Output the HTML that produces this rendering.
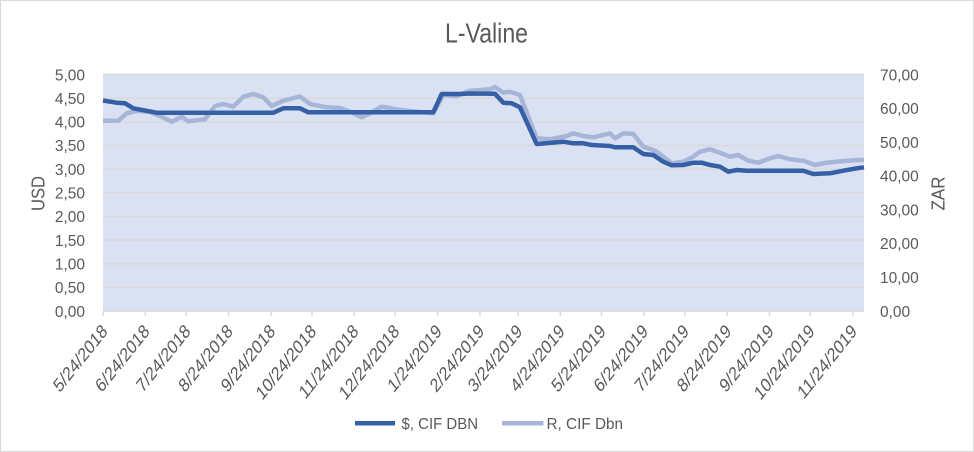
<!DOCTYPE html>
<html>
<head>
<meta charset="utf-8">
<style>
html,body{margin:0;padding:0;background:#fff;}
svg{display:block;}
text{font-family:"Liberation Sans","DejaVu Sans",sans-serif;fill:#595959;}
</style>
</head>
<body>
<svg width="974" height="452" viewBox="0 0 974 452" xmlns="http://www.w3.org/2000/svg">
<rect x="0.5" y="0.5" width="973" height="451" fill="#fff" stroke="#D9D9D9" stroke-width="1"/>
<text x="486.5" y="42.3" font-size="28" text-anchor="middle" textLength="83" lengthAdjust="spacingAndGlyphs">L-Valine</text>

<!-- plot area -->
<rect x="103" y="74.5" width="761" height="236.5" fill="#D9E1F2"/>
<g stroke="#D9D9D9" stroke-width="1.5">
<line x1="103" y1="74.5" x2="864" y2="74.5"/>
<line x1="103" y1="98.15" x2="864" y2="98.15"/>
<line x1="103" y1="121.8" x2="864" y2="121.8"/>
<line x1="103" y1="145.45" x2="864" y2="145.45"/>
<line x1="103" y1="169.1" x2="864" y2="169.1"/>
<line x1="103" y1="192.75" x2="864" y2="192.75"/>
<line x1="103" y1="216.4" x2="864" y2="216.4"/>
<line x1="103" y1="240.05" x2="864" y2="240.05"/>
<line x1="103" y1="263.7" x2="864" y2="263.7"/>
<line x1="103" y1="287.35" x2="864" y2="287.35"/>
<line x1="103" y1="311" x2="864" y2="311"/>
</g>
<!-- x ticks -->
<g stroke="#D9D9D9" stroke-width="1.5">
<line x1="103.3" y1="311" x2="103.3" y2="316"/>
<line x1="145.3" y1="311" x2="145.3" y2="316"/>
<line x1="186.3" y1="311" x2="186.3" y2="316"/>
<line x1="228.6" y1="311" x2="228.6" y2="316"/>
<line x1="271" y1="311" x2="271" y2="316"/>
<line x1="312" y1="311" x2="312" y2="316"/>
<line x1="354.3" y1="311" x2="354.3" y2="316"/>
<line x1="395.2" y1="311" x2="395.2" y2="316"/>
<line x1="437.6" y1="311" x2="437.6" y2="316"/>
<line x1="479.9" y1="311" x2="479.9" y2="316"/>
<line x1="518.1" y1="311" x2="518.1" y2="316"/>
<line x1="560.4" y1="311" x2="560.4" y2="316"/>
<line x1="601.4" y1="311" x2="601.4" y2="316"/>
<line x1="643.8" y1="311" x2="643.8" y2="316"/>
<line x1="684.7" y1="311" x2="684.7" y2="316"/>
<line x1="727" y1="311" x2="727" y2="316"/>
<line x1="769.4" y1="311" x2="769.4" y2="316"/>
<line x1="810.3" y1="311" x2="810.3" y2="316"/>
<line x1="852.7" y1="311" x2="852.7" y2="316"/>
</g>

<!-- series -->
<polyline fill="none" stroke="#A7B5D8" stroke-width="4.5" stroke-linejoin="round" stroke-linecap="butt"
points="103,120.7 118.3,120.7 126.7,113.3 136.7,110.7 150,112 160,116 171.7,121.7 181.7,116.7 188.3,121.3 205,119.3 215,106 223.3,104 233.3,106.7 243.3,96.7 253.3,94 263.3,97.3 271.7,106 283.3,100.7 300,96.5 310,104 326.7,107.3 340,108 350,111.7 361.7,117.3 370,113.3 381.7,106.7 396.7,109.3 416.7,111.7 433.3,113.3 443.3,95 456.7,96 470,90.7 490,89.3 495,87 503.3,92.7 510,91.7 520,95 536.7,138.3 550,139.3 566.7,136 573.3,133.3 583.3,136 593.3,137.3 610,133.3 615,138.3 623.3,133.3 633.3,134 643.3,146.7 655,150.7 660,154 671.7,163.3 683.3,161.7 693.3,156.7 700,151.7 710,149.3 720,152.7 730,156.7 738.3,155 748.3,160.7 758.3,162.7 770,158.3 778.3,156 790,159.3 803.3,160.7 815,165 826.7,162.7 843.3,161 860,160 864,160"/>
<polyline fill="none" stroke="#3660A6" stroke-width="4.5" stroke-linejoin="round" stroke-linecap="butt"
points="103,100.5 116.7,102.7 125,103.3 133.3,108.3 156.7,112.7 273.3,112.7 283.3,108.3 300,108.3 308.3,112.3 433.3,112.3 441.7,94 460,94 470,93.5 495,93.8 503.3,102.7 511.7,103.3 520,107.3 536.7,144 563.3,141.7 573.3,143.3 583.3,143.3 591.7,145 610,146 615,147.3 633.3,147.3 643.3,154 653.3,155 663.3,161.7 671.7,165.3 683.3,165 693.3,162.7 701.7,162.7 710,165 720,166.7 728.3,171.7 736.7,170 746.7,170.7 803.3,170.7 813.3,174 830,173.3 843.3,170.7 856.7,168.3 864,167.3"/>

<!-- left axis labels -->
<g font-size="15.5" text-anchor="end">
<text x="85" y="80.3">5,00</text>
<text x="85" y="103.9">4,50</text>
<text x="85" y="127.6">4,00</text>
<text x="85" y="151.2">3,50</text>
<text x="85" y="174.9">3,00</text>
<text x="85" y="198.5">2,50</text>
<text x="85" y="222.2">2,00</text>
<text x="85" y="245.8">1,50</text>
<text x="85" y="269.5">1,00</text>
<text x="85" y="293.1">0,50</text>
<text x="85" y="316.8">0,00</text>
</g>
<!-- right axis labels -->
<g font-size="15.5" text-anchor="start">
<text x="880" y="80.3">70,00</text>
<text x="880" y="114.1">60,00</text>
<text x="880" y="147.9">50,00</text>
<text x="880" y="181.7">40,00</text>
<text x="880" y="215.4">30,00</text>
<text x="880" y="249.2">20,00</text>
<text x="880" y="283">10,00</text>
<text x="880" y="316.8">0,00</text>
</g>
<text transform="translate(44.5,193.5) rotate(-90)" font-size="18" text-anchor="middle" textLength="35" lengthAdjust="spacingAndGlyphs">USD</text>
<text transform="translate(944.5,193.5) rotate(-90)" font-size="18" text-anchor="middle" textLength="34" lengthAdjust="spacingAndGlyphs">ZAR</text>

<!-- x labels -->
<g font-size="15.5" text-anchor="end">
<text transform="translate(104.8,328) scale(1,1.25) rotate(-45)" y="5">5/24/2018</text>
<text transform="translate(146.8,328) scale(1,1.25) rotate(-45)" y="5">6/24/2018</text>
<text transform="translate(187.8,328) scale(1,1.25) rotate(-45)" y="5">7/24/2018</text>
<text transform="translate(230.1,328) scale(1,1.25) rotate(-45)" y="5">8/24/2018</text>
<text transform="translate(272.5,328) scale(1,1.25) rotate(-45)" y="5">9/24/2018</text>
<text transform="translate(313.5,328) scale(1,1.25) rotate(-45)" y="5">10/24/2018</text>
<text transform="translate(355.8,328) scale(1,1.25) rotate(-45)" y="5">11/24/2018</text>
<text transform="translate(396.7,328) scale(1,1.25) rotate(-45)" y="5">12/24/2018</text>
<text transform="translate(439.1,328) scale(1,1.25) rotate(-45)" y="5">1/24/2019</text>
<text transform="translate(481.4,328) scale(1,1.25) rotate(-45)" y="5">2/24/2019</text>
<text transform="translate(519.6,328) scale(1,1.25) rotate(-45)" y="5">3/24/2019</text>
<text transform="translate(561.9,328) scale(1,1.25) rotate(-45)" y="5">4/24/2019</text>
<text transform="translate(602.9,328) scale(1,1.25) rotate(-45)" y="5">5/24/2019</text>
<text transform="translate(645.3,328) scale(1,1.25) rotate(-45)" y="5">6/24/2019</text>
<text transform="translate(686.2,328) scale(1,1.25) rotate(-45)" y="5">7/24/2019</text>
<text transform="translate(728.5,328) scale(1,1.25) rotate(-45)" y="5">8/24/2019</text>
<text transform="translate(770.9,328) scale(1,1.25) rotate(-45)" y="5">9/24/2019</text>
<text transform="translate(811.8,328) scale(1,1.25) rotate(-45)" y="5">10/24/2019</text>
<text transform="translate(854.2,328) scale(1,1.25) rotate(-45)" y="5">11/24/2019</text>
</g>

<!-- legend -->
<line x1="355" y1="423.3" x2="395" y2="423.3" stroke="#3660A6" stroke-width="4.5"/>
<text x="401.5" y="429" font-size="15.5" textLength="76.5" lengthAdjust="spacingAndGlyphs">$, CIF DBN</text>
<line x1="502" y1="423.3" x2="543.5" y2="423.3" stroke="#A7B5D8" stroke-width="4.5"/>
<text x="546.5" y="429" font-size="15.5" textLength="76.5" lengthAdjust="spacingAndGlyphs">R, CIF Dbn</text>
</svg>
</body>
</html>
